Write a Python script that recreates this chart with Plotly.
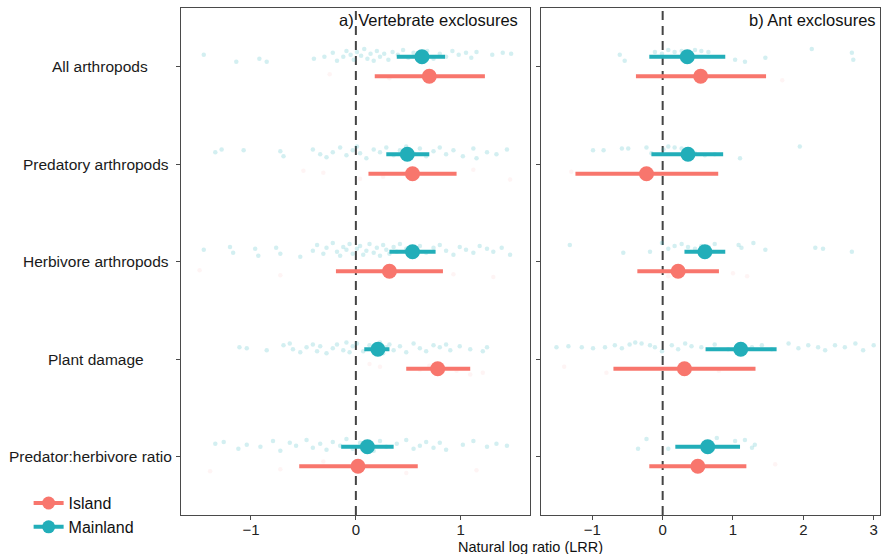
import plotly.graph_objects as go

# ---------------- data ----------------
categories = ["All arthropods", "Predatory arthropods", "Herbivore arthropods",
              "Plant damage", "Predator:herbivore ratio"]
groups = ["Island", "Mainland"]

# Panel a) Vertebrate exclosures: estimate, lower CI, upper CI (per category)
a_main_est = [0.63, 0.49, 0.54, 0.21, 0.11]
a_main_lo = [0.39, 0.29, 0.32, 0.08, -0.14]
a_main_hi = [0.85, 0.70, 0.76, 0.32, 0.36]
a_isl_est = [0.70, 0.54, 0.32, 0.78, 0.02]
a_isl_lo = [0.18, 0.12, -0.19, 0.48, -0.54]
a_isl_hi = [1.23, 0.96, 0.83, 1.09, 0.59]

# Panel b) Ant exclosures
b_main_est = [0.35, 0.36, 0.60, 1.11, 0.64]
b_main_lo = [-0.19, -0.16, 0.31, 0.61, 0.18]
b_main_hi = [0.89, 0.86, 0.89, 1.62, 1.10]
b_isl_est = [0.54, -0.23, 0.22, 0.31, 0.50]
b_isl_lo = [-0.38, -1.24, -0.36, -0.70, -0.19]
b_isl_hi = [1.47, 0.79, 0.80, 1.32, 1.19]

a_main_raw_cat = [1]*40 + [2]*34 + [3]*49 + [4]*40 + [5]*35
a_main_raw_x = [
    -1.45, -1.14, -0.92, -0.85, -0.40, -0.30, -0.22, -0.18, -0.12, -0.09, -0.05, -0.02, 0.01, 0.05, 0.08, 0.11, 0.14, 0.17, 0.20, 0.23,
    0.27, 0.31, 0.35, 0.40, 0.45, 0.50, 0.55, 0.60, 0.68, 0.74, 0.80, 0.86, 0.92, 0.98, 1.05, 1.10, 1.15, 1.30, 1.40, 1.48,
    -1.34, -1.28, -1.07, -0.72, -0.69, -0.41, -0.34, -0.28, -0.22, -0.15, -0.09, -0.03, 0.01, 0.04, 0.10, 0.17, 0.23, 0.29, 0.36, 0.42,
    0.48, 0.55, 0.61, 0.67, 0.74, 0.80, 0.86, 0.93, 1.02, 1.12, 1.15, 1.25, 1.34, 1.44,
    -1.45, -1.20, -1.17, -0.96, -0.93, -0.76, -0.72, -0.53, -0.41, -0.37, -0.31, -0.28, -0.22, -0.18, -0.15, -0.12, -0.09, -0.06, -0.03, 0.01,
    0.04, 0.07, 0.10, 0.13, 0.17, 0.20, 0.23, 0.26, 0.29, 0.32, 0.36, 0.39, 0.42, 0.48, 0.55, 0.61, 0.67, 0.74, 0.80, 0.86,
    0.93, 0.99, 1.05, 1.12, 1.18, 1.25, 1.31, 1.39, 1.47,
    -1.11, -1.04, -0.85, -0.69, -0.63, -0.60, -0.53, -0.47, -0.41, -0.37, -0.34, -0.28, -0.22, -0.18, -0.12, -0.09, -0.06, -0.03, 0.01, 0.07,
    0.13, 0.20, 0.23, 0.26, 0.29, 0.32, 0.36, 0.42, 0.48, 0.55, 0.61, 0.67, 0.74, 0.80, 0.86, 0.90, 0.99, 1.09, 1.21, 1.25,
    -1.34, -1.26, -1.12, -1.04, -0.91, -0.79, -0.72, -0.63, -0.57, -0.47, -0.41, -0.34, -0.28, -0.22, -0.15, -0.09, -0.03, 0.04, 0.10, 0.17,
    0.23, 0.29, 0.39, 0.48, 0.55, 0.61, 0.67, 0.74, 0.80, 0.86, 1.02, 1.12, 1.25, 1.34, 1.44,
]
a_main_raw_dy = [
    -0.12, -0.05, -0.08, -0.05, -0.08, -0.10, -0.14, -0.06, -0.10, -0.16, -0.12, -0.07, -0.15, -0.11, -0.18, -0.08, -0.13, -0.06, -0.16, -0.10,
    -0.13, -0.07, -0.15, -0.12, -0.17, -0.09, -0.14, -0.11, -0.16, -0.08, -0.13, -0.10, -0.16, -0.12, -0.14, -0.09, -0.15, -0.12, -0.14, -0.13,
    -0.12, -0.15, -0.14, -0.13, -0.08, -0.15, -0.10, -0.07, -0.12, -0.17, -0.09, -0.14, -0.18, -0.11, -0.06, -0.15, -0.12, -0.17, -0.09, -0.14,
    -0.18, -0.11, -0.16, -0.08, -0.13, -0.17, -0.10, -0.14, -0.08, -0.16, -0.06, -0.12, -0.10, -0.15,
    -0.12, -0.15, -0.09, -0.13, -0.06, -0.14, -0.08, -0.05, -0.11, -0.17, -0.08, -0.14, -0.19, -0.10, -0.06, -0.15, -0.12, -0.18, -0.08, -0.13,
    -0.16, -0.07, -0.11, -0.18, -0.09, -0.14, -0.06, -0.17, -0.12, -0.08, -0.15, -0.10, -0.18, -0.13, -0.06, -0.16, -0.09, -0.14, -0.17, -0.11,
    -0.07, -0.15, -0.12, -0.09, -0.16, -0.13, -0.10, -0.14, -0.07,
    -0.12, -0.11, -0.09, -0.14, -0.16, -0.10, -0.07, -0.12, -0.15, -0.08, -0.13, -0.06, -0.11, -0.15, -0.09, -0.17, -0.07, -0.13, -0.16, -0.08,
    -0.14, -0.10, -0.17, -0.06, -0.12, -0.15, -0.09, -0.13, -0.07, -0.16, -0.11, -0.08, -0.14, -0.12, -0.15, -0.09, -0.13, -0.10, -0.08, -0.12,
    -0.13, -0.15, -0.08, -0.12, -0.10, -0.16, -0.06, -0.14, -0.11, -0.17, -0.09, -0.13, -0.07, -0.15, -0.11, -0.18, -0.08, -0.14, -0.12, -0.06,
    -0.16, -0.10, -0.13, -0.17, -0.08, -0.11, -0.15, -0.09, -0.14, -0.07, -0.12, -0.16, -0.10, -0.13, -0.11,
]
a_isl_raw_cat = [1, 1, 2, 2, 2, 2, 2, 2, 3, 3, 3, 3, 4, 4, 4, 4, 4, 4, 4, 5, 5, 5, 5, 5]
a_isl_raw_x = [0.32, -0.25, -0.50, -0.31, 0.04, 0.26, 1.12, 1.47, -1.49, -0.72, 0.93, 1.31,
               0.13, 0.23, 0.61, 0.70, 0.96, 1.09, 1.21, -1.39, -0.72, -0.31, 0.48, 1.15]
a_isl_raw_dy = [0.12, 0.08, 0.07, 0.09, 0.15, 0.13, 0.06, 0.16, 0.09, 0.14, 0.13, 0.16,
                0.05, 0.08, 0.11, 0.07, 0.12, 0.16, 0.14, 0.15, 0.13, 0.05, 0.17, 0.14]

b_main_raw_cat = [1]*17 + [2]*16 + [3]*19 + [4]*34 + [5]*8
b_main_raw_x = [
    -0.61, -0.54, -0.11, -0.01, 0.08, 0.17, 0.27, 0.36, 0.46, 0.55, 0.65, 1.03, 1.17, 1.46, 2.12, 2.69, 2.71,
    -0.99, -0.84, -0.58, -0.49, -0.23, -0.16, 0.01, 0.08, 0.17, 0.27, 0.36, 0.46, 0.60, 0.74, 1.10, 1.95,
    -1.32, -0.56, -0.18, -0.01, 0.08, 0.17, 0.27, 0.36, 0.46, 0.55, 0.65, 0.74, 1.08, 1.12, 1.29, 1.46, 2.17, 2.28, 2.69,
    -1.51, -1.34, -1.15, -0.99, -0.82, -0.68, -0.58, -0.47, -0.39, -0.30, -0.18, -0.11, -0.01, 0.13, 0.22, 0.32, 0.41, 0.55, 0.74, 0.93,
    1.12, 1.27, 1.41, 1.55, 1.79, 1.93, 2.07, 2.21, 2.31, 2.45, 2.59, 2.74, 2.85, 3.00,
    -0.35, -0.23, 0.08, 0.77, 1.03, 1.17, 1.27, 1.31,
]
b_main_raw_dy = [
    -0.12, -0.06, -0.15, -0.13, -0.17, -0.15, -0.16, -0.14, -0.17, -0.16, -0.15, -0.07, -0.05, -0.09, -0.18, -0.14, -0.07,
    -0.14, -0.14, -0.16, -0.16, -0.17, -0.11, -0.15, -0.18, -0.17, -0.16, -0.13, -0.11, -0.09, -0.10, -0.06, -0.18,
    -0.17, -0.09, -0.10, -0.19, -0.13, -0.16, -0.18, -0.15, -0.13, -0.16, -0.15, -0.18, -0.17, -0.14, -0.19, -0.12, -0.14, -0.13, -0.10,
    -0.12, -0.13, -0.12, -0.11, -0.12, -0.14, -0.11, -0.15, -0.17, -0.16, -0.14, -0.12, -0.08, -0.14, -0.10, -0.16, -0.13, -0.12, -0.15, -0.10,
    -0.14, -0.12, -0.14, -0.10, -0.16, -0.11, -0.14, -0.12, -0.09, -0.14, -0.12, -0.16, -0.09, -0.14,
    -0.08, -0.18, -0.08, -0.19, -0.16, -0.17, -0.09, -0.12,
]
b_isl_raw_cat = [1, 1, 2, 3, 3, 3, 4, 4, 4, 5]
b_isl_raw_x = [0.60, 1.70, -1.30, 0.08, 1.00, 1.20, -1.40, -0.80, 0.80, 1.60]
b_isl_raw_dy = [0.06, 0.14, 0.08, 0.15, 0.12, 0.15, 0.08, 0.14, 0.12, 0.08]

# ---------------- styling ----------------
ISL = "#F8766D"
MAIN = "#22AEB9"
FONT = "Liberation Sans, Arial, sans-serif"
OFF = {"Island": 0.1, "Mainland": -0.1}
LABEL_CX_PX = [100, 95.5, 95.5, 95.5, 90.5]   # label centres in pixels from the left edge
PLOT_L, PLOT_W = 181, 699

fig = go.Figure()


def add_raw(cats, xs, dys, color, opacity, xa, ya):
    fig.add_trace(go.Scatter(
        x=xs, y=[c + d for c, d in zip(cats, dys)], mode="markers",
        marker=dict(color=color, size=4.5, opacity=opacity, line=dict(width=0)),
        xaxis=xa, yaxis=ya, showlegend=False, hoverinfo="skip"))


def add_est(est, lo, hi, group, color, xa, ya):
    ys, xs = [], []
    for i in range(len(est)):
        y = i + 1 + OFF[group]
        xs += [lo[i], hi[i], None]
        ys += [y, y, None]
    fig.add_trace(go.Scatter(x=xs, y=ys, mode="lines", line=dict(color=color, width=4),
                             xaxis=xa, yaxis=ya, showlegend=False, hoverinfo="skip"))
    fig.add_trace(go.Scatter(x=est, y=[i + 1 + OFF[group] for i in range(len(est))],
                             mode="markers", marker=dict(color=color, size=15),
                             xaxis=xa, yaxis=ya, showlegend=False))


add_raw(a_main_raw_cat, a_main_raw_x, a_main_raw_dy, MAIN, 0.2, "x", "y")
add_raw(a_isl_raw_cat, a_isl_raw_x, a_isl_raw_dy, ISL, 0.08, "x", "y")
add_raw(b_main_raw_cat, b_main_raw_x, b_main_raw_dy, MAIN, 0.2, "x2", "y2")
add_raw(b_isl_raw_cat, b_isl_raw_x, b_isl_raw_dy, ISL, 0.08, "x2", "y2")

add_est(a_main_est, a_main_lo, a_main_hi, "Mainland", MAIN, "x", "y")
add_est(a_isl_est, a_isl_lo, a_isl_hi, "Island", ISL, "x", "y")
add_est(b_main_est, b_main_lo, b_main_hi, "Mainland", MAIN, "x2", "y2")
add_est(b_isl_est, b_isl_lo, b_isl_hi, "Island", ISL, "x2", "y2")

# legend entries
for g, c in [("Island", ISL), ("Mainland", MAIN)]:
    fig.add_trace(go.Scatter(x=[None], y=[None], mode="lines+markers", name=g,
                             line=dict(color=c, width=4), marker=dict(color=c, size=13)))

axis_common = dict(showgrid=False, zeroline=False, showline=True, mirror=True,
                   linecolor="#4a4a4a", linewidth=1, ticks="outside", ticklen=4,
                   tickcolor="#4a4a4a", tickfont=dict(family=FONT, size=15, color="#222222"))

fig.update_layout(
    width=883, height=554,
    margin=dict(l=PLOT_L, r=3, t=8, b=39),
    paper_bgcolor="white", plot_bgcolor="white",
    font=dict(family=FONT, size=14, color="#111111"),
    xaxis=dict(domain=[0, 0.4993], range=[-1.667, 1.66], tickvals=[-1, 0, 1],
               ticklabelstandoff=-3, **axis_common),
    xaxis2=dict(domain=[0.515, 1.0], range=[-1.73, 3.09], tickvals=[-1, 0, 1, 2, 3], anchor="y2",
                ticklabelstandoff=-3, **axis_common),
    yaxis=dict(range=[5.6, 0.4], tickvals=[1, 2, 3, 4, 5], showticklabels=False, **axis_common),
    yaxis2=dict(range=[5.6, 0.4], tickvals=[1, 2, 3, 4, 5], showticklabels=False, anchor="x2", **axis_common),
    legend=dict(x=-0.218, y=0.057, xanchor="left", yanchor="top", bgcolor="rgba(0,0,0,0)",
                font=dict(family=FONT, size=16, color="#111111"), itemwidth=30, tracegroupgap=2),
    showlegend=True,
)

# category labels (centred, as in the reference)
for i, lab in enumerate(categories):
    fig.add_annotation(text=lab, xref="paper", yref="y", x=(LABEL_CX_PX[i] - PLOT_L) / PLOT_W, y=i + 1,
                       xanchor="center", yanchor="middle", showarrow=False,
                       font=dict(family=FONT, size=15.5, color="#1a1a1a"))

for xr, yr in [("x", "y domain"), ("x2", "y2 domain")]:
    fig.add_shape(type="line", xref=xr, yref=yr, x0=0, x1=0, y0=0, y1=1,
                  line=dict(color="#444444", width=2, dash="9px,6px"), layer="below")

fig.add_annotation(text="a) Vertebrate exclosures", xref="x domain", yref="y domain",
                   x=0.972, y=0.976, xanchor="right", yanchor="middle", showarrow=False,
                   font=dict(family=FONT, size=16.5, color="#111111"))
fig.add_annotation(text="b) Ant exclosures", xref="x2 domain", yref="y2 domain",
                   x=0.994, y=0.976, xanchor="right", yanchor="middle", showarrow=False,
                   font=dict(family=FONT, size=16.5, color="#111111"))
fig.add_annotation(text="Natural log ratio (LRR)", xref="paper", yref="paper",
                   x=0.4993, y=-0.064, xanchor="center", yanchor="middle", showarrow=False,
                   font=dict(family=FONT, size=14.5, color="#111111"))

fig.write_html("out.html", config={"displayModeBar": False},
               post_script="document.body.style.margin='0';document.body.style.overflow='hidden';")
